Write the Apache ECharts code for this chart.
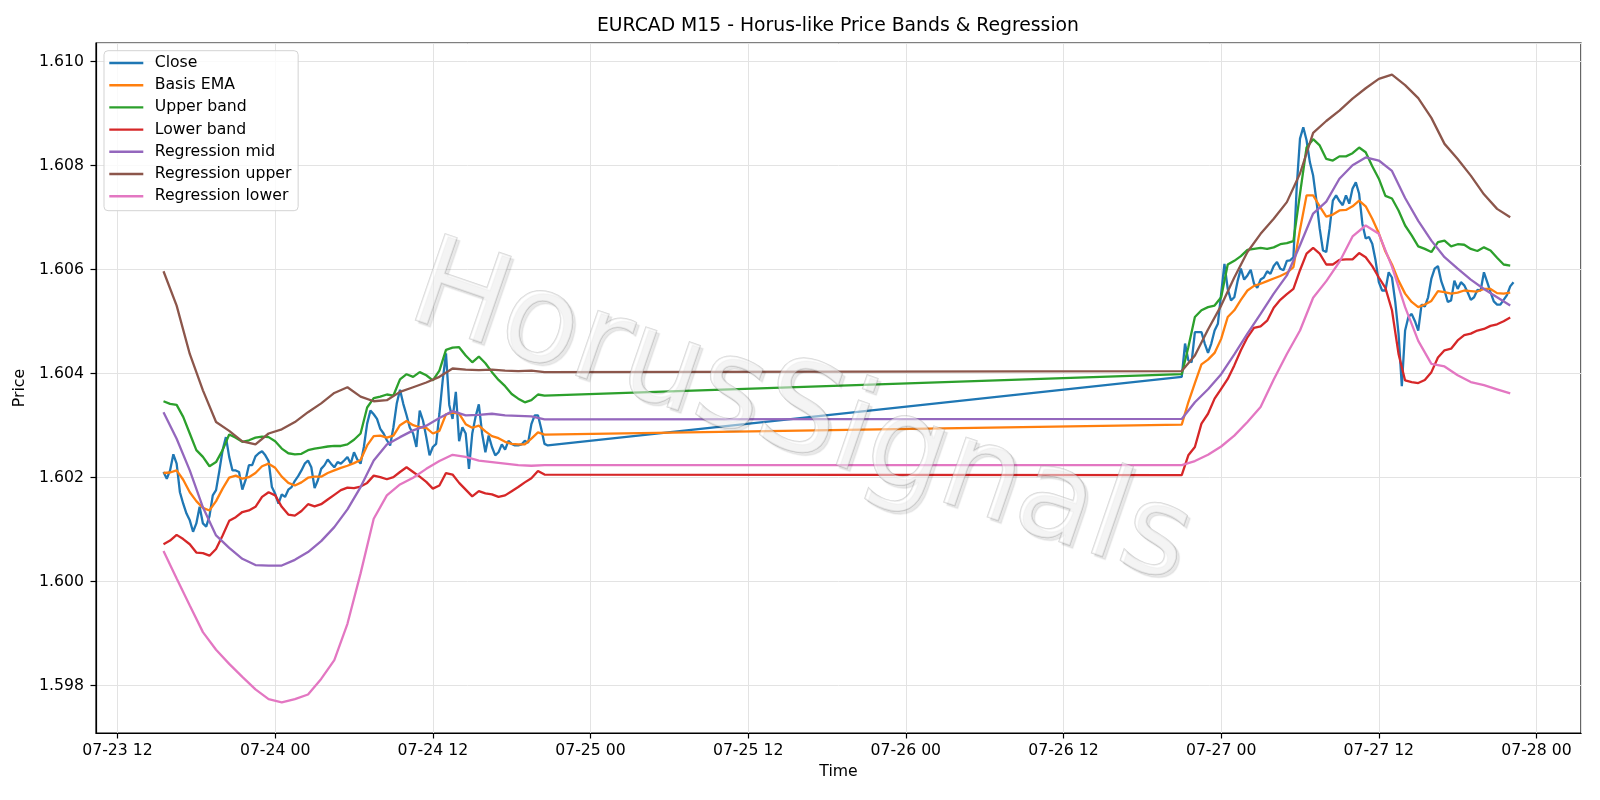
<!DOCTYPE html>
<html>
<head>
<meta charset="utf-8">
<title>EURCAD M15</title>
<script src="https://cdn.jsdelivr.net/npm/echarts@6/dist/echarts.min.js"></script>
<style>
  html, body { margin: 0; padding: 0; background: #fff; }
  #chart { width: 1600px; height: 800px; }
</style>
</head>
<body>
<div id="chart"></div>
<script>
// time is counted in hours from 07-23 00:00
const seg1Start = 15.5; // 07-23 15:30
const seg2Start = 93;   // 07-26 21:00 (after the weekend gap)
const closeStep = 0.25, bandStep = 0.5, regStep = 1;

const closeA = [1.60211,1.60198,1.60214,1.60245,1.60227,1.60172,1.60150,1.60131,1.60118,1.60096,
  1.60112,1.60144,1.60112,1.60106,1.60126,1.60166,1.60176,1.60213,1.60253,1.60278,
  1.60240,1.60214,1.60214,1.60211,1.60177,1.60196,1.60224,1.60224,1.60241,1.60247,
  1.60251,1.60243,1.60232,1.60182,1.60169,1.60150,1.60168,1.60163,1.60177,1.60182,
  1.60194,1.60203,1.60214,1.60227,1.60233,1.60220,1.60180,1.60195,1.60217,1.60224,
  1.60235,1.60227,1.60220,1.60230,1.60227,1.60233,1.60240,1.60227,1.60249,1.60235,
  1.60227,1.60259,1.60304,1.60329,1.60322,1.60313,1.60294,1.60285,1.60272,1.60262,
  1.60297,1.60342,1.60369,1.60342,1.60320,1.60296,1.60285,1.60259,1.60329,1.60310,
  1.60278,1.60243,1.60259,1.60265,1.60323,1.60387,1.60439,1.60340,1.60313,1.60365,
  1.60270,1.60297,1.60285,1.60217,1.60285,1.60317,1.60341,1.60285,1.60249,1.60281,
  1.60259,1.60243,1.60249,1.60264,1.60254,1.60271,1.60265,1.60262,1.60262,1.60264,
  1.60271,1.60267,1.60303,1.60320,1.60320,1.60294,1.60265,1.60262];
const closeB = [1.60394,1.60458,1.60426,1.60422,1.60480,1.60480,1.60480,1.60458,1.60440,1.60458,
  1.60483,1.60496,1.60554,1.60611,1.60563,1.60541,1.60547,1.60578,1.60602,1.60581,
  1.60589,1.60600,1.60573,1.60565,1.60581,1.60585,1.60597,1.60592,1.60607,1.60615,
  1.60602,1.60599,1.60617,1.60618,1.60624,1.60759,1.60852,1.60874,1.60849,1.60807,
  1.60781,1.60733,1.60679,1.60637,1.60634,1.60679,1.60733,1.60743,1.60732,1.60724,
  1.60743,1.60727,1.60756,1.60768,1.60746,1.60688,1.60660,1.60663,1.60650,1.60618,
  1.60576,1.60560,1.60560,1.60595,1.60585,1.60538,1.60477,1.60376,1.60483,1.60509,
  1.60515,1.60501,1.60483,1.60533,1.60529,1.60547,1.60583,1.60602,1.60607,1.60578,
  1.60560,1.60538,1.60541,1.60579,1.60563,1.60576,1.60570,1.60557,1.60542,1.60547,
  1.60561,1.60560,1.60595,1.60576,1.60557,1.60539,1.60533,1.60533,1.60542,1.60551,
  1.60568,1.60576];

const emaA = [1.60209,1.60210,1.60214,1.60196,1.60172,1.60155,1.60142,1.60137,1.60155,1.60179,
  1.60200,1.60204,1.60198,1.60201,1.60209,1.60222,1.60227,1.60219,1.60202,1.60190,
  1.60185,1.60191,1.60200,1.60202,1.60202,1.60209,1.60214,1.60219,1.60223,1.60228,
  1.60234,1.60262,1.60280,1.60281,1.60277,1.60281,1.60301,1.60309,1.60301,1.60297,
  1.60296,1.60285,1.60290,1.60322,1.60325,1.60323,1.60303,1.60296,1.60300,1.60289,
  1.60280,1.60276,1.60269,1.60265,1.60264,1.60264,1.60275,1.60287,1.60283];
const emaB = [1.60302,1.60345,1.60382,1.60418,1.60427,1.60440,1.60467,1.60509,1.60522,1.60542,
  1.60560,1.60569,1.60573,1.60578,1.60583,1.60588,1.60594,1.60605,1.60677,1.60743,
  1.60743,1.60722,1.60702,1.60706,1.60714,1.60715,1.60722,1.60733,1.60722,1.60698,
  1.60670,1.60635,1.60610,1.60579,1.60554,1.60538,1.60528,1.60533,1.60540,1.60559,
  1.60557,1.60554,1.60556,1.60560,1.60559,1.60558,1.60563,1.60563,1.60555,1.60554,
  1.60556];

const upperA = [1.60347,1.60342,1.60340,1.60317,1.60285,1.60253,1.60240,1.60222,1.60230,1.60253,
  1.60283,1.60277,1.60269,1.60272,1.60277,1.60279,1.60278,1.60270,1.60256,1.60247,
  1.60245,1.60246,1.60253,1.60256,1.60258,1.60260,1.60261,1.60261,1.60264,1.60273,
  1.60285,1.60335,1.60353,1.60356,1.60360,1.60358,1.60389,1.60399,1.60394,1.60403,
  1.60397,1.60387,1.60406,1.60446,1.60450,1.60451,1.60435,1.60422,1.60433,1.60420,
  1.60403,1.60388,1.60376,1.60361,1.60352,1.60345,1.60349,1.60360,1.60358];
const upperB = [1.60399,1.60451,1.60509,1.60522,1.60528,1.60531,1.60547,1.60610,1.60617,1.60626,
  1.60638,1.60640,1.60642,1.60640,1.60643,1.60649,1.60651,1.60655,1.60746,1.60835,
  1.60851,1.60839,1.60813,1.60810,1.60818,1.60818,1.60824,1.60835,1.60826,1.60799,
  1.60775,1.60742,1.60737,1.60714,1.60685,1.60666,1.60645,1.60640,1.60634,1.60653,
  1.60656,1.60645,1.60649,1.60648,1.60640,1.60636,1.60643,1.60637,1.60623,1.60610,
  1.60608];

const lowerA = [1.60072,1.60079,1.60090,1.60082,1.60072,1.60056,1.60055,1.60050,1.60063,1.60089,
  1.60117,1.60124,1.60134,1.60137,1.60144,1.60163,1.60172,1.60166,1.60144,1.60129,
  1.60127,1.60136,1.60149,1.60145,1.60149,1.60158,1.60167,1.60176,1.60181,1.60180,
  1.60183,1.60190,1.60204,1.60201,1.60197,1.60201,1.60211,1.60220,1.60211,1.60202,
  1.60192,1.60179,1.60185,1.60209,1.60206,1.60190,1.60177,1.60164,1.60174,1.60170,
  1.60168,1.60163,1.60166,1.60174,1.60182,1.60191,1.60199,1.60213,1.60206];
const lowerB = [1.60205,1.60243,1.60259,1.60304,1.60323,1.60352,1.60371,1.60390,1.60416,1.60445,
  1.60470,1.60488,1.60491,1.60502,1.60527,1.60542,1.60553,1.60563,1.60599,1.60631,
  1.60642,1.60631,1.60610,1.60610,1.60619,1.60620,1.60620,1.60632,1.60624,1.60607,
  1.60585,1.60565,1.60522,1.60438,1.60387,1.60384,1.60382,1.60388,1.60403,1.60431,
  1.60445,1.60448,1.60464,1.60474,1.60477,1.60483,1.60486,1.60492,1.60495,1.60501,
  1.60508];

const regMidA = [1.60326,1.60275,1.60214,1.60143,1.60089,1.60065,1.60044,1.60032,1.60031,1.60031,
  1.60042,1.60057,1.60078,1.60105,1.60139,1.60182,1.60233,1.60264,1.60278,1.60291,
  1.60300,1.60315,1.60328,1.60320,1.60321,1.60323,1.60320,1.60319,1.60318,1.60312];
const regMidB = [1.60313,1.60345,1.60370,1.60399,1.60437,1.60477,1.60515,1.60554,1.60589,1.60647,
  1.60708,1.60731,1.60775,1.60801,1.60816,1.60810,1.60790,1.60738,1.60694,1.60656,
  1.60624,1.60602,1.60581,1.60563,1.60547,1.60531];

const regUpA = [1.60597,1.60531,1.60438,1.60368,1.60307,1.60290,1.60270,1.60264,1.60285,1.60293,
  1.60307,1.60326,1.60343,1.60363,1.60374,1.60356,1.60347,1.60349,1.60365,1.60374,
  1.60383,1.60394,1.60410,1.60408,1.60407,1.60408,1.60406,1.60405,1.60406,1.60403];
const regUpB = [1.60405,1.60435,1.60485,1.60531,1.60585,1.60634,1.60669,1.60698,1.60730,1.60785,
  1.60863,1.60886,1.60906,1.60929,1.60949,1.60967,1.60975,1.60955,1.60930,1.60892,
  1.60842,1.60813,1.60781,1.60745,1.60717,1.60701];

const regLoA = [1.60059,1.60006,1.59954,1.59903,1.59869,1.59842,1.59817,1.59793,1.59774,1.59768,
  1.59774,1.59783,1.59813,1.59849,1.59919,1.60016,1.60121,1.60166,1.60187,1.60200,
  1.60217,1.60232,1.60244,1.60240,1.60233,1.60230,1.60227,1.60224,1.60223,1.60224];
const regLoB = [1.60224,1.60232,1.60244,1.60260,1.60281,1.60307,1.60336,1.60389,1.60438,1.60483,
  1.60546,1.60578,1.60615,1.60664,1.60685,1.60669,1.60606,1.60528,1.60463,1.60419,
  1.60414,1.60397,1.60384,1.60378,1.60370,1.60362];

const seriesNames = ['Close', 'Basis EMA', 'Upper band', 'Lower band',
  'Regression mid', 'Regression upper', 'Regression lower'];
const colors = ['#1f77b4', '#ff7f0e', '#2ca02c', '#d62728', '#9467bd', '#8c564b', '#e377c2'];

// join the two trading sessions into one [hour, price] list
function joinSegments(a, b, step) {
  const out = [];
  a.forEach((v, i) => out.push([seg1Start + i * step, v]));
  b.forEach((v, i) => out.push([seg2Start + i * step, v]));
  return out;
}

const seriesData = [
  joinSegments(closeA, closeB, closeStep),
  joinSegments(emaA, emaB, bandStep),
  joinSegments(upperA, upperB, bandStep),
  joinSegments(lowerA, lowerB, bandStep),
  joinSegments(regMidA, regMidB, regStep),
  joinSegments(regUpA, regUpB, regStep),
  joinSegments(regLoA, regLoB, regStep)
];

function timeLabel(h) {
  const d = Math.floor(h / 24 + 1e-6);
  const hr = Math.round(h - d * 24);
  return '07-' + (23 + d) + ' ' + String(hr).padStart(2, '0');
}

const chart = echarts.init(document.getElementById('chart'));

const option = {
  animation: false,
  textStyle: { fontFamily: 'DejaVu Sans' },
  title: {
    text: 'EURCAD M15 - Horus-like Price Bands & Regression',
    left: 838,
    top: 17,
    padding: 0,
    textAlign: 'center',
    textStyle: { fontSize: 18.8, fontWeight: 'normal', color: '#000', fontFamily: 'DejaVu Sans' }
  },
  legend: {
    orient: 'vertical',
    left: 104,
    top: 50.7,
    padding: [4.3, 6.7, 6.5, 5.3],
    icon: 'rect',
    itemWidth: 34,
    itemHeight: 2.4,
    itemGap: 6.2,
    backgroundColor: 'rgba(255,255,255,0.8)',
    borderColor: '#d3d3d3',
    borderWidth: 1,
    borderRadius: 4,
    textStyle: { fontSize: 15.7, color: '#000', lineHeight: 16, padding: [0, 0, 0, 6.4], fontFamily: 'DejaVu Sans' },
    data: seriesNames
  },
  grid: {
    left: 96, right: 19, top: 43, bottom: 67,
    show: true, borderColor: '#000', borderWidth: 1.2, backgroundColor: 'transparent'
  },
  xAxis: {
    type: 'value',
    min: 10.3625,
    max: 123.3875,
    minInterval: 12,
    maxInterval: 12,
    name: 'Time',
    nameLocation: 'middle',
    nameGap: 29,
    nameTextStyle: { fontSize: 15.7, color: '#000' },
    axisLine: { show: true, lineStyle: { color: '#000', width: 1.2 } },
    axisTick: { show: true, length: 5.5, lineStyle: { color: '#000', width: 1.2 } },
    axisLabel: {
      fontSize: 15.7, color: '#000', margin: 10,
      showMinLabel: false, showMaxLabel: false,
      formatter: timeLabel
    },
    splitLine: { show: true, lineStyle: { color: '#e3e3e3', width: 1 } }
  },
  yAxis: {
    type: 'value',
    min: 1.59709,
    max: 1.61036,
    minInterval: 0.002,
    maxInterval: 0.002,
    name: 'Price',
    nameLocation: 'middle',
    nameRotate: 90,
    nameGap: 60,
    nameTextStyle: { fontSize: 15.7, color: '#000' },
    axisLine: { show: true, lineStyle: { color: '#000', width: 1.2 } },
    axisTick: { show: true, length: 5.5, lineStyle: { color: '#000', width: 1.2 } },
    axisLabel: {
      fontSize: 15.7, color: '#000', margin: 12,
      showMinLabel: false, showMaxLabel: false,
      formatter: v => v.toFixed(3)
    },
    splitLine: { show: true, lineStyle: { color: '#e3e3e3', width: 1 } }
  },
  graphic: [{
    type: 'text',
    x: 800,
    y: 418,
    rotation: -19 * Math.PI / 180,
    z: 100,
    silent: true,
    style: {
      text: 'HorusSignals',
      fontSize: 125,
      fontFamily: 'DejaVu Sans',
      align: 'center',
      verticalAlign: 'middle',
      fill: 'rgba(255,255,255,0.5)',
      stroke: 'rgba(140,140,140,0.35)',
      lineWidth: 1.5,
      textShadowColor: 'rgba(0,0,0,0.18)',
      textShadowOffsetX: 3,
      textShadowOffsetY: 3,
      textShadowBlur: 1
    }
  }],
  series: seriesNames.map((name, i) => ({
    name: name,
    type: 'line',
    data: seriesData[i],
    symbol: 'none',
    showSymbol: false,
    color: colors[i],
    lineStyle: { color: colors[i], width: 2.3 },
    emphasis: { disabled: true }
  }))
};

chart.setOption(option);
</script>
</body>
</html>
